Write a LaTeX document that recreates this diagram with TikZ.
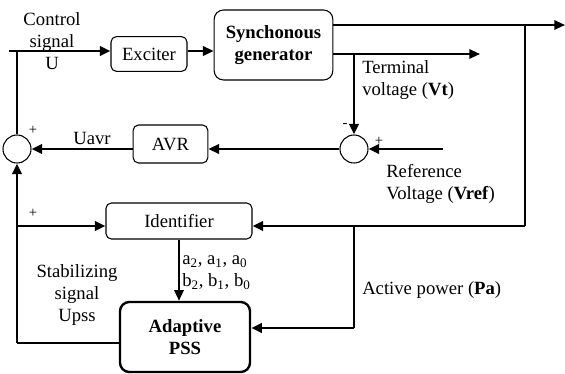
\documentclass[tikz,border=0pt]{standalone}
\usepackage{fontspec}
\setmainfont{Liberation Serif}
\usetikzlibrary{arrows.meta}
\begin{document}
\begin{tikzpicture}[x=0.75pt,y=-0.75pt,
  font=\fontsize{14pt}{16.5pt}\selectfont,
  thk/.style={line width=2.2pt},
  med/.style={line width=1.5pt},
  thn/.style={line width=0.8pt},
  tip/.style={-{Triangle[length=8pt,width=7pt]}},
  blk/.style={draw,line width=0.8pt,rounded corners=4pt,inner sep=0pt},
  sumc/.style={draw,circle,line width=0.8pt,minimum size=21pt,inner sep=0pt},
  lbl/.style={inner sep=0pt,align=center},
  lbll/.style={inner sep=0pt,align=left,anchor=west},
  sgn/.style={inner sep=0pt,font=\fontsize{11pt}{12pt}\selectfont}]
\useasboundingbox (0,0) rectangle (565,374);
% blocks
\node[blk,minimum width=57pt,minimum height=26pt] (exciter) at (149,54) {Exciter};
\node[blk,rounded corners=7pt,minimum width=89pt,minimum height=52.5pt,align=center,font=\fontsize{14pt}{17pt}\selectfont\bfseries] (gen) at (273.5,45) {Synchonous\\generator};
\node[blk,minimum width=56pt,minimum height=28.5pt] (avr) at (170.5,144) {AVR};
\node[blk,minimum width=109.5pt,minimum height=27pt] (ident) at (179,221) {Identifier};
\node[draw,line width=1.8pt,rounded corners=7pt,minimum width=97.5pt,minimum height=52.5pt,inner sep=0pt,align=center,font=\fontsize{14pt}{17pt}\selectfont\bfseries] (apss) at (185,337) {Adaptive\\PSS};
\node[sumc] (sum2) at (354,149) {};
\node[sumc] (sum1) at (17,149) {};
% coordinates
\coordinate (start) at (9,51);
\coordinate (jtop) at (17,51);
\coordinate (outTop) at (565,25);
\coordinate (outVt) at (480,54);
\coordinate (tapVt) at (354,54);
\coordinate (vref) at (443,149);
\coordinate (tapR) at (525,25);
\coordinate (cornR) at (525,226);
\coordinate (tapP) at (354,226);
\coordinate (cornP) at (354,328);
\coordinate (cornL) at (17,343);
\coordinate (jbr) at (17,226);
% connectors
\draw[thk,tip] (start) -- (exciter.west |- start);
\draw[thk,tip] (exciter.east |- start) -- (gen.west |- start);
\draw[med,tip] (gen.east |- outTop) -- (outTop);
\draw[med,tip] (gen.east |- outVt) -- (outVt);
\draw[thk,tip] (tapVt) -- (sum2.north);
\draw[thk,tip] (vref) -- (sum2.east);
\draw[thk,tip] (sum2.west) -- (avr.east |- sum2);
\draw[thk,tip] (avr.west |- sum1) -- (sum1.east);
\draw[thn] (sum1.north) -- (jtop);
\draw[thn] (tapR) -- (cornR);
\draw[thk,tip] (cornR) -- (ident.east |- cornR);
\draw[thn] (tapP) -- (cornP);
\draw[thk,tip] (cornP) -- (apss.east |- cornP);
\draw[med,tip] (ident.south -| 179,0) -- (apss.north -| 179,0);
\draw[thn] (apss.west |- cornL) -- (cornL);
\draw[thk,tip] (cornL) -- (sum1.south);
\draw[thk,tip] (jbr) -- (ident.west |- jbr);
% labels
\node[lbl] (lctrl) at (52,41) {Control\\signal\\U};
\node[lbll] (lvt) at (362,80) {Terminal\\voltage (\textbf{Vt})};
\node[sgn] (lminus) at (345,126) {-};
\node[sgn] (lplus2) at (379,141) {+};
\node[lbll] (lvref) at (386,184) {Reference\\Voltage (\textbf{Vref})};
\node[lbl] (luavr) at (92,138) {Uavr};
\node[sgn] (lplus1) at (33,130) {+};
\node[sgn] (lplus3) at (33,213) {+};
\node[lbll] (lab) at (182,273) {a\textsubscript{2}, a\textsubscript{1}, a\textsubscript{0}\\b\textsubscript{2}, b\textsubscript{1}, b\textsubscript{0}};
\node[lbl] (lupss) at (77,295) {Stabilizing\\signal\\Upss};
\node[lbll] (lpa) at (362,290) {Active power (\textbf{Pa})};
\end{tikzpicture}
\end{document}
